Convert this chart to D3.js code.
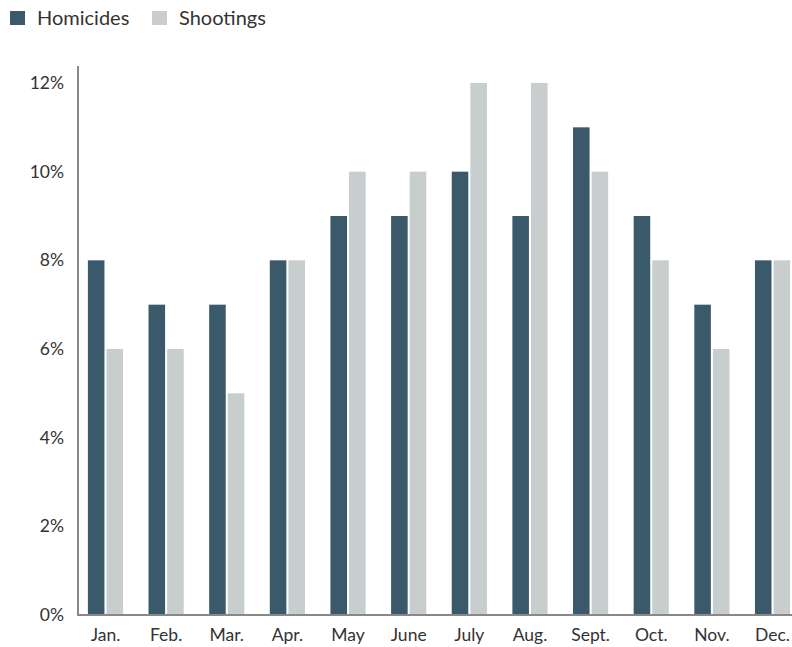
<!DOCTYPE html>
<html><head><meta charset="utf-8">
<script src="https://cdn.jsdelivr.net/npm/d3@7"></script>
<style>body{margin:0;background:#fff}svg{display:block}text{font-family:Lato,"Open Sans",sans-serif}</style>
</head><body><svg id="c" width="792" height="647"></svg>
<script>
const months = ["Jan.","Feb.","Mar.","Apr.","May","June","July","Aug.","Sept.","Oct.","Nov.","Dec."];
const homicides = [8,7,7,8,9,9,10,9,11,9,7,8];
const shootings = [6,6,5,8,10,10,12,12,10,8,6,8];
const seriesNames = ["Homicides","Shootings"];
const colors = ["#3a596b","#c8cdcd"];
const yTicks = [0,2,4,6,8,10,12];

const svg = d3.select("#c");
const x = d3.scaleBand().domain(months).range([82,796]).paddingInner(0.42).paddingOuter(0.097);
const x1 = d3.scaleBand().domain(seriesNames).range([0,x.bandwidth()]).paddingInner(0.11);
const y = d3.scaleLinear().domain([0,12]).range([615,83]);

// bars
const data = months.map((m,i)=>({m, vals:[homicides[i],shootings[i]]}));
const g = svg.append("g");
data.forEach(d=>{
  d.vals.forEach((v,j)=>{
    g.append("rect").attr("x",x(d.m)+x1(seriesNames[j])).attr("width",x1.bandwidth())
      .attr("y",y(v)).attr("height",y(0)-y(v)).attr("fill",colors[j]);
  });
});

// y axis
const ya = svg.append("g").attr("transform","translate(78,0)")
  .call(d3.axisLeft(y).tickValues(yTicks).tickFormat(d=>d+"%").tickSize(0).tickPadding(14));
ya.select(".domain").remove();
ya.selectAll("text").attr("font-size",17.5).attr("fill","#333").attr("font-family","Lato,'Open Sans',sans-serif");
svg.append("line").attr("x1",78).attr("x2",78).attr("y1",66).attr("y2",y(0)+1).attr("stroke","#888").attr("stroke-width",2);

// x axis
const xa = svg.append("g").attr("transform",`translate(0,${y(0)})`)
  .call(d3.axisBottom(x).tickSize(0).tickPadding(14));
xa.select(".domain").remove();
xa.selectAll("text").attr("font-size",17.5).attr("fill","#333").attr("font-family","Lato,'Open Sans',sans-serif");
svg.append("line").attr("x1",77).attr("x2",792).attr("y1",y(0)).attr("y2",y(0)).attr("stroke","#888").attr("stroke-width",2);

// legend
const lx = [10,152];
seriesNames.forEach((n,i)=>{
  svg.append("rect").attr("x",lx[i]).attr("y",11).attr("width",15).attr("height",14).attr("fill",colors[i]);
  svg.append("text").attr("x",lx[i]+27).attr("y",25).attr("font-size",20).attr("fill","#333").text(n);
});
</script></body></html>
